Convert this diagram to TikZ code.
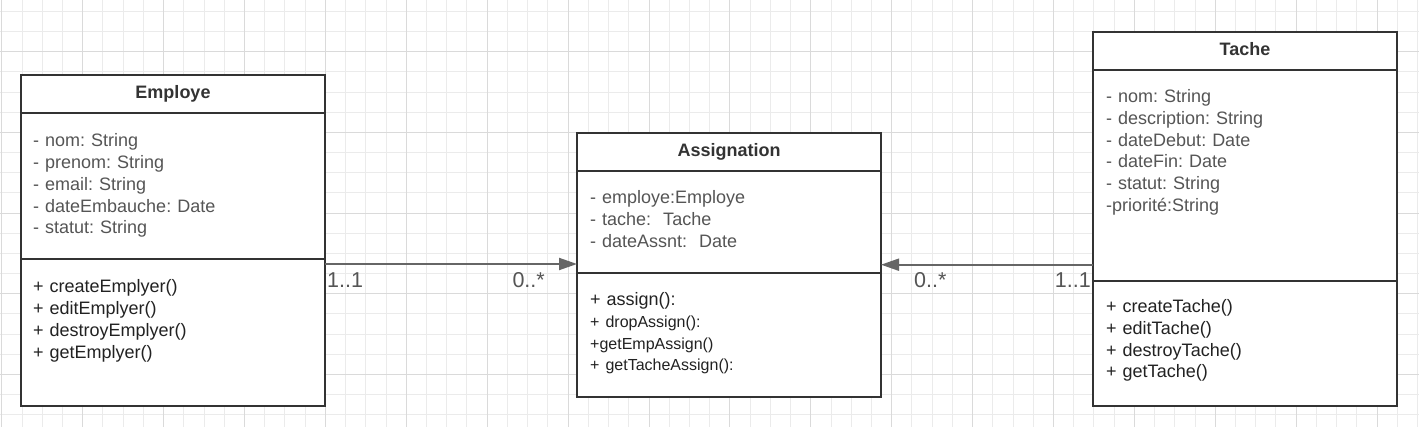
\documentclass[tikz,border=0pt]{standalone}
\usepackage{fontspec}
\setmainfont{Liberation Sans}
\usetikzlibrary{arrows.meta,positioning}
\frenchspacing

\definecolor{boxline}{HTML}{333333}
\definecolor{headgray}{HTML}{333333}
\definecolor{attrgray}{HTML}{555555}
\definecolor{methgray}{HTML}{222222}
\definecolor{arrowgray}{HTML}{666666}
\definecolor{gridminor}{HTML}{EBEBEB}
\definecolor{gridmajor}{HTML}{DADADA}

\tikzset{
    classbox/.style={draw=boxline, line width=2pt, fill=white, minimum width=304pt, inner sep=0pt, outer sep=0pt},
    classhead/.style={classbox, minimum height=38pt, text height=13pt, text depth=4pt, text=headgray, font=\bfseries\fontsize{18}{22}\selectfont},
    attrlines/.style={anchor=base west, inner sep=0pt, align=left, text width=280pt, text=attrgray, font=\fontsize{18}{21.7}\selectfont},
    methlines/.style={attrlines, text=methgray},
    assoc/.style={draw=arrowgray, line width=2pt, -{Triangle[length=18pt,width=12pt]}},
    mult/.style={inner sep=0pt, text=attrgray, font=\fontsize{21.5}{24}\selectfont}
}

\begin{document}
\begin{tikzpicture}[x=1pt,y=-1pt]
    % Fond quadrille
    \fill[white] (0,0) rectangle (1419,427);
    \useasboundingbox (0,0) rectangle (1419,427);
    \foreach \i in {0,...,70} {
        \pgfmathsetmacro\gx{1.8+20.225*\i}
        \draw[gridminor, line width=1pt] (\gx,0) -- (\gx,427);
    }
    \foreach \i in {0,...,21} {
        \pgfmathsetmacro\gy{11.35+20.175*\i}
        \draw[gridminor, line width=1pt] (0,\gy) -- (1419,\gy);
    }
    \foreach \i in {0,...,17} {
        \pgfmathsetmacro\gx{1.8+80.9*\i}
        \draw[gridmajor, line width=1pt] (\gx,0) -- (\gx,427);
    }
    \foreach \i in {0,...,6} {
        \pgfmathsetmacro\gy{-29+80.7*\i}
        \draw[gridmajor, line width=1pt] (0,\gy) -- (1419,\gy);
    }

    % Classe Employe
    \node[classhead, anchor=north west] (emp-head) at (21,75) {Employe};
    \node[classbox, minimum height=146pt, below=0pt of emp-head] (emp-attr) {};
    \node[classbox, minimum height=147pt, below=0pt of emp-attr] (emp-meth) {};
    \node[attrlines] (emp-attr-txt) at ([xshift=12pt,yshift=-34pt]emp-attr.north west)
        {- nom: String\\- prenom: String\\- email: String\\- dateEmbauche: Date\\- statut: String};
    \node[methlines] (emp-meth-txt) at ([xshift=12pt,yshift=-34pt]emp-meth.north west)
        {+ createEmplyer()\\+ editEmplyer()\\+ destroyEmplyer()\\+ getEmplyer()};

    % Classe Assignation
    \node[classhead, anchor=north west] (asg-head) at (577,132.7) {Assignation};
    \node[classbox, minimum height=102pt, below=0pt of asg-head] (asg-attr) {};
    \node[classbox, minimum height=124pt, below=0pt of asg-attr] (asg-meth) {};
    \node[attrlines] (asg-attr-txt) at ([xshift=13pt,yshift=-33pt]asg-attr.north west)
        {- employe:Employe\\- tache:~ Tache\\- dateAssnt:~ Date};
    \node[methlines] (asg-meth-txt) at ([xshift=13pt,yshift=-33pt]asg-meth.north west)
        {+ assign():\\{\fontsize{16}{21.7}\selectfont + dropAssign():}\\{\fontsize{16}{21.7}\selectfont +getEmpAssign()}\\{\fontsize{16}{21.7}\selectfont + getTacheAssign():}};

    % Classe Tache
    \node[classhead, anchor=north west] (tac-head) at (1093,31.7) {Tache};
    \node[classbox, minimum height=211pt, below=0pt of tac-head] (tac-attr) {};
    \node[classbox, minimum height=125pt, below=0pt of tac-attr] (tac-meth) {};
    \node[attrlines] (tac-attr-txt) at ([xshift=13pt,yshift=-33pt]tac-attr.north west)
        {- nom: String\\- description: String\\- dateDebut: Date\\- dateFin: Date\\- statut: String\\-priorité:String};
    \node[methlines] (tac-meth-txt) at ([xshift=13pt,yshift=-32pt]tac-meth.north west)
        {+ createTache()\\+ editTache()\\+ destroyTache()\\+ getTache()};

    % Associations
    \coordinate (emp-out) at ([yshift=-5pt]emp-meth.north east);
    \coordinate (asg-in) at ([yshift=-94pt]asg-attr.north east);
    \draw[assoc] (emp-out) -- (emp-out -| asg-attr.west);
    \draw[assoc] (asg-in -| tac-attr.west) -- (asg-in);

    % Multiplicites
    \node[mult, anchor=base west] (m-emp) at ([xshift=2pt,yshift=-24pt]emp-out) {1..1};
    \node[mult, anchor=base east] (m-asg1) at ([xshift=-32pt,yshift=-24pt]emp-out -| asg-attr.west) {0..*};
    \node[mult, anchor=base west] (m-asg2) at ([xshift=33pt,yshift=-23pt]asg-in) {0..*};
    \node[mult, anchor=base east] (m-tac) at ([xshift=-2pt,yshift=-23pt]asg-in -| tac-attr.west) {1..1};
\end{tikzpicture}
\end{document}
